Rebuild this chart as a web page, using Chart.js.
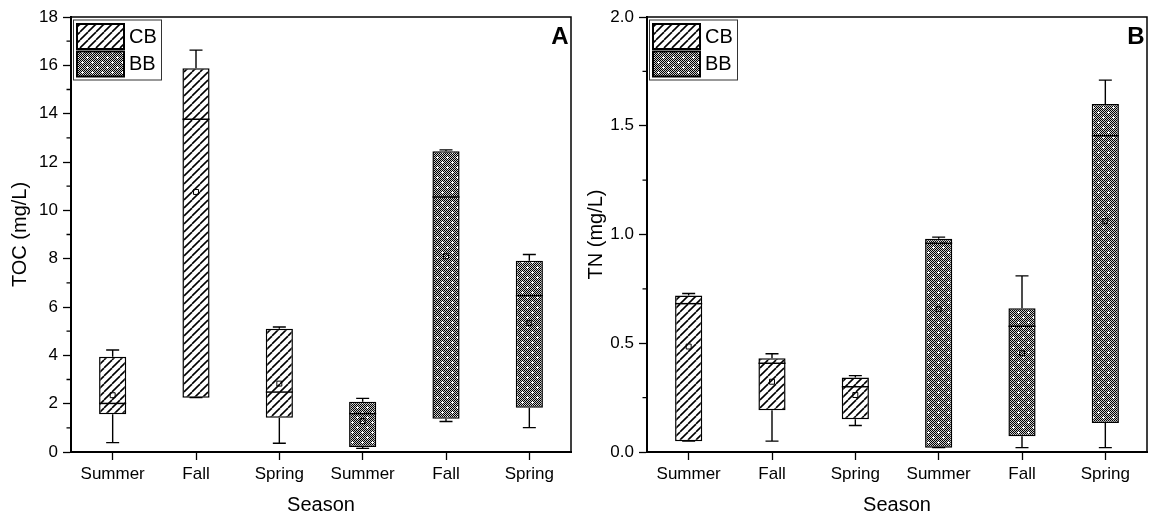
<!DOCTYPE html>
<html>
<head>
<meta charset="utf-8">
<script src="https://cdn.jsdelivr.net/npm/chart.js@4/dist/chart.umd.min.js"></script>
<style>
  html, body { margin: 0; padding: 0; background: #fff; }
  .wrap { display: flex; width: 1152px; height: 520px; }
  .panel { width: 576px; height: 520px; }
</style>
</head>
<body>
<div class="wrap">
  <div class="panel"><canvas id="tocChart" width="576" height="520"></canvas></div>
  <div class="panel"><canvas id="tnChart" width="576" height="520"></canvas></div>
</div>
<script>
const seasons = ['Summer', 'Fall', 'Spring', 'Summer', 'Fall', 'Spring'];
const sites = ['CB', 'CB', 'CB', 'BB', 'BB', 'BB'];

// TOC (mg/L), panel A
const tocLow = [0.39, 2.25, 0.36, 0.15, 1.26, 1.01];
const tocQ1 = [1.56, 2.25, 1.42, 0.21, 1.38, 1.83];
const tocMedian = [2.01, 13.77, 2.48, 1.59, 10.55, 6.47];
const tocMean = [2.35, 10.76, 2.83, 1.28, 8.10, 5.33];
const tocQ3 = [3.94, 15.88, 5.10, 2.08, 12.45, 7.91];
const tocHigh = [4.22, 16.63, 5.17, 2.22, 12.50, 8.17];
const tocTicks = { max: 18, step: 2, decimals: 0 };

// TN (mg/L), panel B
const tnLow = [0.05, 0.05, 0.122, 0.02, 0.02, 0.02];
const tnQ1 = [0.05, 0.192, 0.151, 0.02, 0.072, 0.133];
const tnMedian = [0.682, 0.408, 0.30, 0.960, 0.578, 1.454];
const tnMean = [0.485, 0.323, 0.262, 0.656, 0.454, 1.061];
const tnQ3 = [0.72, 0.431, 0.342, 0.98, 0.661, 1.60];
const tnHigh = [0.729, 0.452, 0.351, 0.988, 0.810, 1.710];
const tnTicks = { max: 2.0, step: 0.5, decimals: 1 };

Chart.defaults.font.family = "'Liberation Sans', Arial, sans-serif";
Chart.defaults.color = '#000';

// fill patterns
function hatchPattern() {
    const n = 8;
    const c = document.createElement('canvas');
    c.width = n; c.height = n;
    const g = c.getContext('2d');
    g.fillStyle = '#fff';
    g.fillRect(0, 0, n, n);
    g.strokeStyle = '#000';
    g.lineWidth = 1.6;
    for (const k of [-n, 0, n]) {
        g.beginPath();
        g.moveTo(k, n);
        g.lineTo(k + n, 0);
        g.stroke();
    }
    return g.createPattern(c, 'repeat');
}

function dotPattern() {
    const n = 10;
    const c = document.createElement('canvas');
    c.width = n; c.height = n;
    const g = c.getContext('2d');
    const img = g.createImageData(n, n);
    const white = new Set();
    for (const [cx, cy] of [[2, 2], [7, 7]]) {
        for (const [dx, dy] of [[0, 0], [1, 0], [-1, 0], [0, 1], [0, -1]]) {
            white.add((cx + dx) + ',' + (cy + dy));
        }
    }
    for (let y = 0; y < n; y++) {
        for (let x = 0; x < n; x++) {
            const i = (y * n + x) * 4;
            const v = white.has(x + ',' + y) ? 255 : ((x + y) % 2 === 0 ? 0 : 200);
            img.data[i] = img.data[i + 1] = img.data[i + 2] = v;
            img.data[i + 3] = 255;
        }
    }
    g.putImageData(img, 0, 0);
    return g.createPattern(c, 'repeat');
}

const fills = { CB: hatchPattern(), BB: dotPattern() };

// whiskers, medians, frame, legend and panel letter
const boxExtras = {
    id: 'boxExtras',
    afterDatasetsDraw(chart, args, opts) {
        const { ctx } = chart;
        const x = chart.scales.x, y = chart.scales.y;
        const s = opts.stats;
        ctx.save();
        ctx.strokeStyle = '#000';
        seasons.forEach((_, i) => {
            const cx = x.getPixelForValue(i);
            const half = 13.5, cap = 6.5;
            ctx.lineWidth = 1.4;
            ctx.beginPath();
            ctx.moveTo(cx, y.getPixelForValue(s.q3[i]));
            ctx.lineTo(cx, y.getPixelForValue(s.high[i]));
            ctx.moveTo(cx - cap, y.getPixelForValue(s.high[i]));
            ctx.lineTo(cx + cap, y.getPixelForValue(s.high[i]));
            ctx.moveTo(cx, y.getPixelForValue(s.q1[i]));
            ctx.lineTo(cx, y.getPixelForValue(s.low[i]));
            ctx.moveTo(cx - cap, y.getPixelForValue(s.low[i]));
            ctx.lineTo(cx + cap, y.getPixelForValue(s.low[i]));
            ctx.stroke();
            ctx.lineWidth = 1.5;
            ctx.beginPath();
            ctx.moveTo(cx - half, y.getPixelForValue(s.median[i]));
            ctx.lineTo(cx + half, y.getPixelForValue(s.median[i]));
            ctx.stroke();
        });
        ctx.restore();
    },
    afterDraw(chart, args, opts) {
        const { ctx, chartArea: a } = chart;
        const y = chart.scales.y;
        ctx.save();
        ctx.strokeStyle = '#000';
        ctx.lineWidth = 1.5;
        ctx.strokeRect(a.left, a.top, a.right - a.left, a.bottom - a.top);

        // minor ticks halfway between major ticks
        ctx.lineWidth = 1.3;
        ctx.beginPath();
        for (let k = 0; k < y.ticks.length - 1; k++) {
            const v = (y.ticks[k].value + y.ticks[k + 1].value) / 2;
            const py = y.getPixelForValue(v);
            ctx.moveTo(a.left - 4.5, py);
            ctx.lineTo(a.left, py);
        }
        ctx.stroke();

        // legend
        const lx = a.left + 2.5, ly = a.top + 3;
        ctx.lineWidth = 1;
        ctx.strokeStyle = '#333';
        ctx.strokeRect(lx, ly, 88, 60);
        ['CB', 'BB'].forEach((name, k) => {
            const sy = ly + 4 + k * 27.5;
            ctx.fillStyle = fills[name];
            ctx.fillRect(lx + 3.5, sy, 47, 25);
            ctx.strokeStyle = '#000';
            ctx.lineWidth = 2;
            ctx.strokeRect(lx + 3.5, sy, 47, 25);
            ctx.fillStyle = '#000';
            ctx.font = "20px 'Liberation Sans', Arial, sans-serif";
            ctx.textBaseline = 'middle';
            ctx.textAlign = 'left';
            ctx.fillText(name, lx + 55.5, sy + 13);
        });

        // panel letter
        ctx.font = "bold 24px 'Liberation Sans', Arial, sans-serif";
        ctx.textAlign = 'right';
        ctx.textBaseline = 'alphabetic';
        ctx.fillStyle = '#000';
        ctx.fillText(opts.letter, a.right - 2.5, a.top + 26.5);
        ctx.restore();
    }
};

function makePanel(canvasId, yTitle, letter, stats, tickInfo) {
    const boxData = site => seasons.map((_, i) => sites[i] === site ? [stats.q1[i], stats.q3[i]] : null);
    const barStyle = site => ({
        label: site,
        data: boxData(site),
        backgroundColor: fills[site],
        borderColor: '#000',
        borderWidth: 1.5,
        borderSkipped: false,
        grouped: false,
        categoryPercentage: 1,
        barPercentage: 0.326,
        order: 2
    });

    return new Chart(document.getElementById(canvasId), {
        type: 'bar',
        data: {
            labels: seasons,
            datasets: [
                barStyle('CB'),
                barStyle('BB'),
                {
                    type: 'line',
                    label: 'Mean',
                    data: stats.mean,
                    showLine: false,
                    pointStyle: 'rect',
                    pointRadius: 3.5,
                    pointBorderWidth: 1,
                    pointBorderColor: '#000',
                    pointBackgroundColor: 'rgba(0,0,0,0)',
                    order: 1
                }
            ]
        },
        options: {
            responsive: false,
            animation: false,
            layout: { padding: { top: 17, right: 3, bottom: 0, left: 0 } },
            plugins: {
                legend: { display: false },
                tooltip: { enabled: false },
                boxExtras: { stats: stats, letter: letter }
            },
            scales: {
                x: {
                    type: 'category',
                    offset: true,
                    grid: { offset: false, drawOnChartArea: false, drawTicks: true, tickLength: 8, tickColor: '#000', tickWidth: 1.3 },
                    border: { display: true, color: '#000', width: 2 },
                    ticks: { font: { size: 17 }, padding: 4, maxRotation: 0, autoSkip: false },
                    title: { display: true, text: 'Season', font: { size: 20 }, padding: { top: 0, bottom: 3 } },
                    afterFit: s => { s.height = 68; }
                },
                y: {
                    min: 0,
                    max: tickInfo.max,
                    grid: { drawOnChartArea: false, drawTicks: true, tickLength: 8, tickColor: '#000', tickWidth: 1.3 },
                    border: { display: true, color: '#000', width: 2 },
                    ticks: {
                        stepSize: tickInfo.step,
                        font: { size: 17 },
                        padding: 5,
                        callback: v => Number(v).toFixed(tickInfo.decimals)
                    },
                    title: { display: true, text: yTitle, font: { size: 20 }, padding: { top: 8, bottom: 0 } },
                    afterFit: s => { s.width = 71; }
                }
            }
        },
        plugins: [boxExtras]
    });
}

makePanel('tocChart', 'TOC (mg/L)', 'A',
    { low: tocLow, q1: tocQ1, median: tocMedian, mean: tocMean, q3: tocQ3, high: tocHigh }, tocTicks);
makePanel('tnChart', 'TN (mg/L)', 'B',
    { low: tnLow, q1: tnQ1, median: tnMedian, mean: tnMean, q3: tnQ3, high: tnHigh }, tnTicks);
</script>
</body>
</html>
